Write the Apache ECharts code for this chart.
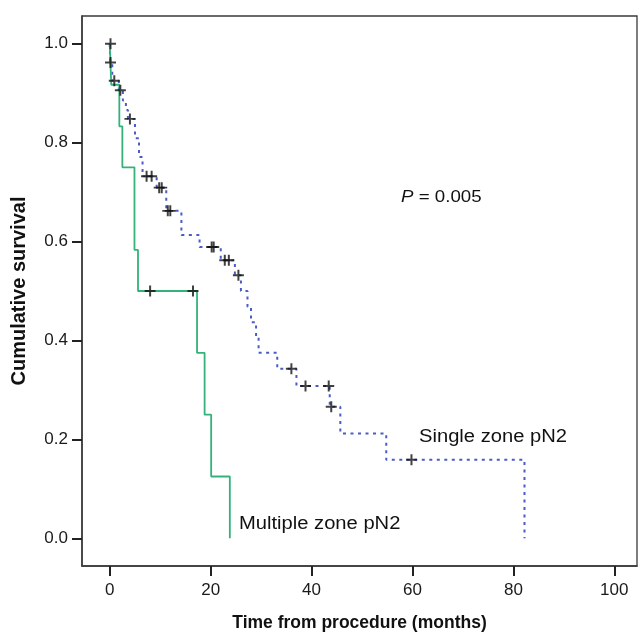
<!DOCTYPE html>
<html>
<head>
<meta charset="utf-8">
<script src="https://cdn.jsdelivr.net/npm/echarts@6/dist/echarts.min.js"></script>
<style>
	html, body { margin: 0; padding: 0; background: #fff; }
	#main { width: 641px; height: 637px; }
</style>
</head>
<body>
<div id="main"></div>
<script type="text/javascript">
	// survival curves, months / cumulative survival
	var singleTimes = [0, 0.1, 0.5, 1.8, 2.6, 3.2, 3.6, 5.0, 5.8, 6.5, 9.3, 11.2, 14.2, 17.8, 22.0, 24.8, 26.0, 27.3, 28.0, 29.0, 29.5, 33.2, 37.0, 43.6, 45.7, 54.8, 82.2];
	var singleSurv  = [1.0, 0.962, 0.925, 0.906, 0.885, 0.866, 0.848, 0.809, 0.771, 0.732, 0.709, 0.662, 0.613, 0.589, 0.562, 0.532, 0.500, 0.468, 0.437, 0.406, 0.375, 0.343, 0.308, 0.266, 0.212, 0.159, 0.0];
	var singleCensorTimes = [0.15, 0.15, 0.9, 2.1, 4.0, 7.3, 8.3, 9.8, 10.3, 11.5, 12.0, 20.2, 20.6, 22.8, 23.6, 25.5, 36.0, 38.8, 43.4, 43.9, 59.8];
	var singleCensorSurv  = [1.0, 0.962, 0.925, 0.906, 0.848, 0.732, 0.732, 0.709, 0.709, 0.662, 0.662, 0.589, 0.589, 0.562, 0.562, 0.532, 0.343, 0.308, 0.308, 0.266, 0.159];

	var multiTimes = [0, 0.3, 1.9, 2.5, 4.9, 5.6, 17.3, 18.8, 20.1, 23.8];
	var multiSurv  = [1.0, 0.917, 0.833, 0.75, 0.583, 0.5, 0.375, 0.25, 0.125, 0.0];
	var multiCensorTimes = [8.0, 16.5];
	var multiCensorSurv  = [0.5, 0.5];

	var xTicks = [0, 20, 40, 60, 80, 100];
	var yTicks = [0, 0.2, 0.4, 0.6, 0.8, 1.0];

	function pairs(xs, ys) {
		var out = [];
		for (var i = 0; i < xs.length; i++) out.push([xs[i], ys[i]]);
		return out;
	}

	var plus = 'path://M4.1,0H5.9V4.1H10V5.9H5.9V10H4.1V5.9H0V4.1H4.1Z';
	var font = 'Liberation Sans, Arial, sans-serif';

	var chart = echarts.init(document.getElementById('main'));
	chart.setOption({
		animation: false,
		backgroundColor: '#fff',
		grid: {
			left: 82, top: 16, right: 4, bottom: 71,
			outerBoundsMode: 'none', containLabel: false,
			show: true, borderColor: '#3a3a3a', borderWidth: 1.3
		},
		xAxis: {
			type: 'value', min: -5.5, max: 104.5,
			name: 'Time from procedure (months)',
			nameLocation: 'middle', nameGap: 48,
			nameTextStyle: { fontFamily: font, fontWeight: 'bold', fontSize: 17.5, color: '#111' },
			axisLine: { onZero: false, lineStyle: { color: '#3a3a3a', width: 1.5 } },
			axisTick: { show: true, length: 10, customValues: xTicks, lineStyle: { color: '#222', width: 2 } },
			axisLabel: { customValues: xTicks, margin: 16, fontFamily: font, fontSize: 17, color: '#1a1a1a' },
			splitLine: { show: false }
		},
		yAxis: {
			type: 'value', min: -0.056, max: 1.056,
			name: 'Cumulative survival',
			nameLocation: 'middle', nameGap: 53,
			nameTextStyle: { fontFamily: font, fontWeight: 'bold', fontSize: 20, color: '#111' },
			axisLine: { show: true, onZero: false, lineStyle: { color: '#3a3a3a', width: 1.5 } },
			axisTick: { show: true, length: 10, customValues: yTicks, lineStyle: { color: '#222', width: 2 } },
			axisLabel: {
				customValues: yTicks, margin: 14, fontFamily: font, fontSize: 17, color: '#1a1a1a',
				formatter: function (v) { return v.toFixed(1); }
			},
			splitLine: { show: false }
		},
		graphic: [
			{ type: 'text', x: 401, y: 197, scaleX: 1.1, style: {
				text: '{i|P} = 0.005', font: '17px ' + font, fill: '#111', verticalAlign: 'middle',
				rich: { i: { fontStyle: 'italic', fontSize: 17, fontFamily: font } } } },
			{ type: 'text', x: 419, y: 437, scaleX: 1.12, style: { text: 'Single zone pN2', font: '18px ' + font, fill: '#111', verticalAlign: 'middle' } },
			{ type: 'text', x: 239, y: 524, scaleX: 1.12, style: { text: 'Multiple zone pN2', font: '18px ' + font, fill: '#111', verticalAlign: 'middle' } }
		],
		series: [
			{
				name: 'Single zone pN2', type: 'line', step: 'end', showSymbol: false,
				data: pairs(singleTimes, singleSurv),
				lineStyle: { color: '#4a5cc4', width: 2, type: [3, 4.5] }
			},
			{
				name: 'Multiple zone pN2', type: 'line', step: 'end', showSymbol: false,
				data: pairs(multiTimes, multiSurv),
				lineStyle: { color: '#35b27a', width: 1.8 }
			},
			{
				type: 'scatter', symbol: plus, symbolSize: 11,
				data: pairs(singleCensorTimes, singleCensorSurv).concat(pairs(multiCensorTimes, multiCensorSurv)),
				itemStyle: { color: '#111' }, z: 5
			}
		]
	});
</script>
</body>
</html>
